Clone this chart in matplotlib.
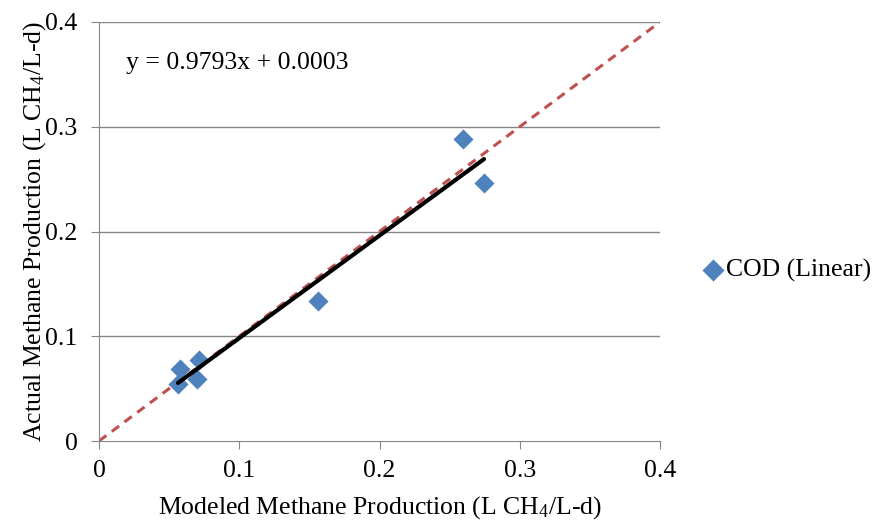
import matplotlib
matplotlib.use("Agg")
import matplotlib.pyplot as plt
import numpy as np

modeled = [0.0578, 0.0713, 0.0699, 0.0563, 0.156, 0.2595, 0.2745]
actual = [0.0687, 0.0773, 0.0592, 0.0544, 0.1337, 0.2883, 0.2463]
slope, intercept = 0.9793, 0.0003
ticks = [0, 0.1, 0.2, 0.3, 0.4]
tick_labels = ["0", "0.1", "0.2", "0.3", "0.4"]

plt.rcParams['font.family'] = ['Liberation Serif', 'DejaVu Serif']
plt.rcParams['mathtext.fontset'] = 'custom'
plt.rcParams['mathtext.rm'] = 'Liberation Serif'
plt.rcParams['mathtext.it'] = 'Liberation Serif:italic'
plt.rcParams['mathtext.default'] = 'regular'
fs = 18.5
fig = plt.figure(figsize=(8.86, 5.24), dpi=100)
ax = fig.add_axes([99/886, 1-441/524, (660-99)/886, (441-22)/524])

gray = '#868686'
for t in ticks[1:]:
    ax.axhline(t, color=gray, lw=1.0, zorder=0)

ax.plot([0, 0.4], [0, 0.4], color='#C0504D', lw=2.2, ls=(0, (3, 2.2)), zorder=1)
ax.scatter(modeled, actual, marker='D', s=105, color='#4F81BD', zorder=3,
           label='COD (Linear)', linewidths=0)
xf = np.array([min(modeled), max(modeled)])
ax.plot(xf, slope*xf + intercept, color='black', lw=3, zorder=4, solid_capstyle='round')

ax.set_xlim(0, 0.4)
ax.set_ylim(0, 0.4)
ax.set_xticks(ticks)
ax.set_xticklabels(tick_labels)
ax.set_yticks(ticks)
ax.set_yticklabels(tick_labels)
for s in ['top', 'right']:
    ax.spines[s].set_visible(False)
for s in ['left', 'bottom']:
    ax.spines[s].set_color(gray)
ax.tick_params(axis='both', direction='out', length=5.5, color=gray, labelsize=fs)
ax.tick_params(axis='y', pad=10)
ax.tick_params(axis='x', pad=8)

ax.set_xlabel('Modeled Methane Production (L CH$_4$/L-d)', fontsize=fs, labelpad=9)
ax.set_ylabel('Actual Methane Production (L CH$_4$/L-d)', fontsize=fs, labelpad=-2)
ax.text(0.019, 0.355, 'y = 0.9793x + 0.0003', fontsize=fs)

leg = fig.legend(loc='center left', bbox_to_anchor=(700/886, 1-270/524), frameon=False,
                 fontsize=fs, handletextpad=0.0, markerscale=1.1, handlelength=1.0,
                 borderpad=0, borderaxespad=0)

fig.savefig('out.png', dpi=100)
